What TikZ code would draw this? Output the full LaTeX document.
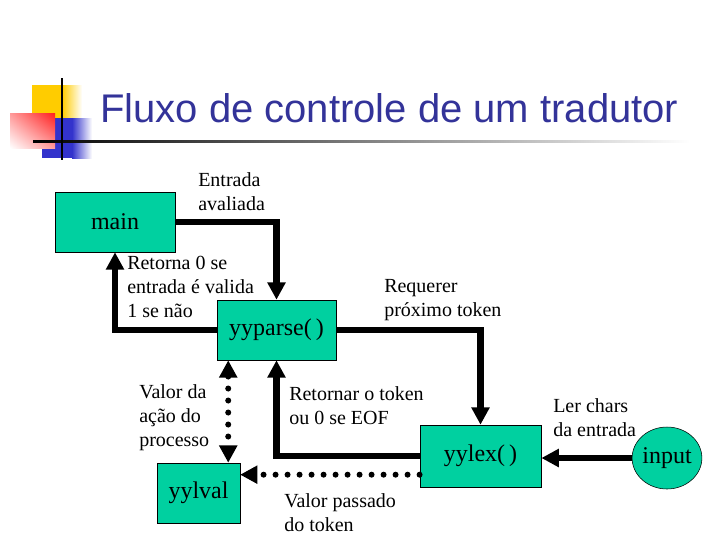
\documentclass[tikz,border=0pt]{standalone}
\usepackage{fontspec}
\setmainfont{Liberation Serif}
\newfontfamily\titlefont{Liberation Sans}
\usetikzlibrary{arrows.meta,positioning,shapes.geometric,shadings}
\definecolor{boxgreen}{RGB}{0,208,160}
\definecolor{titleblue}{RGB}{51,51,153}
\definecolor{decoyellow}{RGB}{255,204,0}
\definecolor{decored}{RGB}{255,30,30}
\definecolor{decoblue}{RGB}{51,51,204}

\begin{document}
\begin{tikzpicture}[
  x=0.75pt, y=-0.75pt,
  >={Triangle[length=13pt,width=13pt]},
  box/.style={draw,fill=boxgreen,minimum height=45pt,inner sep=0pt,
              font=\fontsize{18}{21}\selectfont},
  arrow/.style={->,line width=5pt},
  dotarrow/.style={->,line width=4.5pt,line cap=round,dash pattern=on 0pt off 9pt},
  lbl/.style={align=left,anchor=west,inner sep=0pt,font=\fontsize{15}{18}\selectfont}
]
\useasboundingbox (0,0) rectangle (720,540);
% title decoration
\fill[decoyellow] (32,85) rectangle (62,122);
\shade[left color=decoyellow,right color=white] (62,85) rectangle (82,122);
\fill[decoblue] (42,118) rectangle (72,158);
\shade[left color=decoblue,right color=white] (72,118) rectangle (92,158);
\shade[upper right=decored,upper left=decored!45,lower right=decored!45,lower left=white] (10,113) rectangle (55,148);
\shade[left color=black,right color=white] (33,140) rectangle (690,142.5);
\draw[line width=1.5pt] (62,78) -- (62,160);
\node[anchor=base west,inner sep=0pt,text=titleblue,font=\titlefont\fontsize{30}{36}\selectfont] (title) at (100,122) {Fluxo de controle de um tradutor};
% boxes
\node[box,minimum width=90pt] (main) at (115,222) {main};
\node[box,minimum width=89pt] (parse) at (276.5,330) {yyparse(\,)};
\node[box,minimum width=91pt,minimum height=46.5pt] (lex) at (480.5,456) {yylex(\,)};
\node[box,minimum width=62pt] (yylval) at (198.5,493) {yylval};
\node[box,ellipse,minimum width=49pt,minimum height=46.5pt] (input) at (667,458) {input};
% connectors
\draw[arrow] (main.east) -| (parse.north);
\draw[arrow] (parse.west) -| (main.south);
\draw[arrow] (parse.east) -| (lex.north);
\draw[arrow] (lex.west) -| (parse.south);
\draw[arrow] (input.west) -- (input.west -| lex.east);
\coordinate (lexdot) at ([yshift=-14pt]lex.west);
\draw[dotarrow] (lexdot) -- (lexdot -| yylval.east);
\coordinate (parsedot) at ([xshift=8.5pt]parse.south west);
\draw[dotarrow,<->] (parsedot) -- (parsedot |- yylval.north);
% labels
\node[lbl] (entrada) at (198,192) {Entrada\\avaliada};
\node[lbl] (retorna) at (127,287) {Retorna 0 se\\entrada é valida\\1 se não};
\node[lbl] (requerer) at (384,300) {Requerer\\próximo token};
\node[lbl] (valor) at (139,418) {Valor da\\ação do\\processo};
\node[lbl] (retornar) at (289,406) {Retornar o token\\ou 0 se EOF};
\node[lbl] (ler) at (553,418) {Ler chars\\da entrada};
\node[lbl] (passado) at (284,513) {Valor passado\\do token};
\end{tikzpicture}
\end{document}
